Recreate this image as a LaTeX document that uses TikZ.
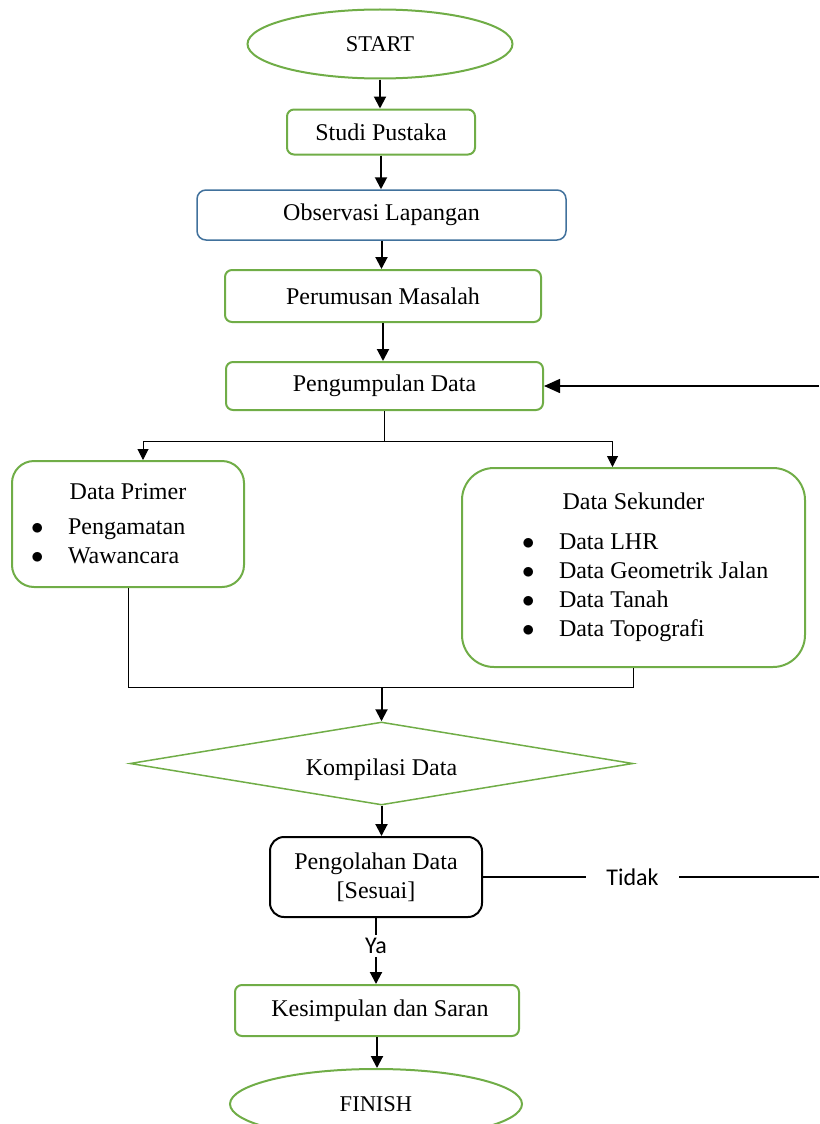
\documentclass[tikz,border=0pt]{standalone}
\usepackage{fontspec}
\setmainfont{Liberation Serif}
\newfontfamily\calibri{Carlito}
\usetikzlibrary{shapes.geometric,arrows.meta}
\definecolor{boxgreen}{HTML}{70AD47}
\definecolor{boxblue}{HTML}{41719C}
\newcommand{\listitem}[3]{\makebox[#1][l]{\hspace*{#2}\makebox[37pt][l]{$\bullet$}#3}}

\begin{document}
\begin{tikzpicture}[x=1pt, y=-1pt,
    every node/.style={font=\fontsize{24}{29}\selectfont, inner sep=0pt},
    gbox/.style={draw=boxgreen, line width=2pt, rounded corners=7pt},
    term/.style={ellipse, draw=boxgreen, line width=2pt, font=\fontsize{22.5}{27}\selectfont},
    arr/.style={line width=2pt, -{Triangle[length=12pt, width=12pt]}},
    link/.style={line width=1pt},
    thinarr/.style={line width=1pt, -{Triangle[length=11pt, width=11pt]}},
    lbl/.style={fill=white, font=\calibri\fontsize{24}{29}\selectfont}]
    \useasboundingbox (0,0) rectangle (819,1124);
    \clip (0,0) rectangle (819,1124);

    \node[term, minimum width=265pt, minimum height=69pt] (start) at (380,44) {START};
    \node[gbox, minimum width=188pt, minimum height=45pt] (studi) at (381,132) {Studi Pustaka};
    \node[draw=boxblue, line width=1.5pt, rounded corners=9pt, minimum width=369pt, minimum height=50pt] (observasi) at (381.5,215) {Observasi Lapangan};
    \node[gbox, minimum width=316pt, minimum height=52pt] (perumusan) at (383,296) {Perumusan Masalah};
    \node[gbox, minimum width=317pt, minimum height=48pt] (pengumpulan) at (384.5,386) {Pengumpulan Data};

    \node[gbox, rounded corners=22pt, minimum width=232pt, minimum height=126pt, align=center] (primer) at (128,524)
        {Data Primer\\[6pt]
         \listitem{200pt}{3pt}{Pengamatan}\\
         \listitem{200pt}{3pt}{Wawancara}};
    \node[gbox, rounded corners=32pt, minimum width=343pt, minimum height=199pt, align=center] (sekunder) at (633.5,567.5)
        {Data Sekunder\\[11pt]
         \listitem{311pt}{44pt}{Data LHR}\\
         \listitem{311pt}{44pt}{Data Geometrik Jalan}\\
         \listitem{311pt}{44pt}{Data Tanah}\\
         \listitem{311pt}{44pt}{Data Topografi}};

    \node[diamond, aspect=6.06, draw=boxgreen, line width=1.5pt, minimum width=503pt, minimum height=83pt] (kompilasi) at (381.5,763.5) {\raisebox{-12pt}[0pt][0pt]{Kompilasi Data}};
    \node[draw, line width=2pt, rounded corners=14pt, minimum width=212pt, minimum height=80pt, align=center] (pengolahan) at (376,877) {Pengolahan Data\\{[Sesuai]}};
    \node[gbox, minimum width=284pt, minimum height=51pt] (kesimpulan) at (377,1010.5) {\hspace*{6pt}Kesimpulan dan Saran};
    \node[term, minimum width=292pt, minimum height=70pt] (finish) at (376,1104) {FINISH};

    \coordinate (tidakend) at (819,877);
    \coordinate (balik) at (819,386);

    \foreach \a/\b in {start/studi, studi/observasi, observasi/perumusan, perumusan/pengumpulan, kompilasi/pengolahan, kesimpulan/finish}
        \draw[arr] (\a.south) -- (\a.south |- \b.north);

    \draw[link] (pengumpulan.south) -- (pengumpulan.south |- 0,441) coordinate (cabang);
    \draw[thinarr] (cabang) -| ([xshift=15pt]primer.north);
    \draw[thinarr] (cabang) -| ([xshift=-21pt]sekunder.north);

    \draw[link] (primer.south) |- (sekunder.south |- 0,687) -- (sekunder.south);
    \draw[arr] (kompilasi.north |- 0,687) -- (kompilasi.north);

    \draw[arr] (pengolahan.south) -- node[lbl, pos=0.42, inner ysep=3pt] {Ya} (pengolahan.south |- kesimpulan.north);
    \draw[line width=1.5pt] (pengolahan.east) -- node[lbl, pos=0.445, inner xsep=20pt, inner ysep=4pt] {Tidak} (tidakend);
    \draw[line width=1.5pt, -{Triangle[length=16pt, width=14pt]}] (balik) -- (pengumpulan.east);
\end{tikzpicture}
\end{document}
